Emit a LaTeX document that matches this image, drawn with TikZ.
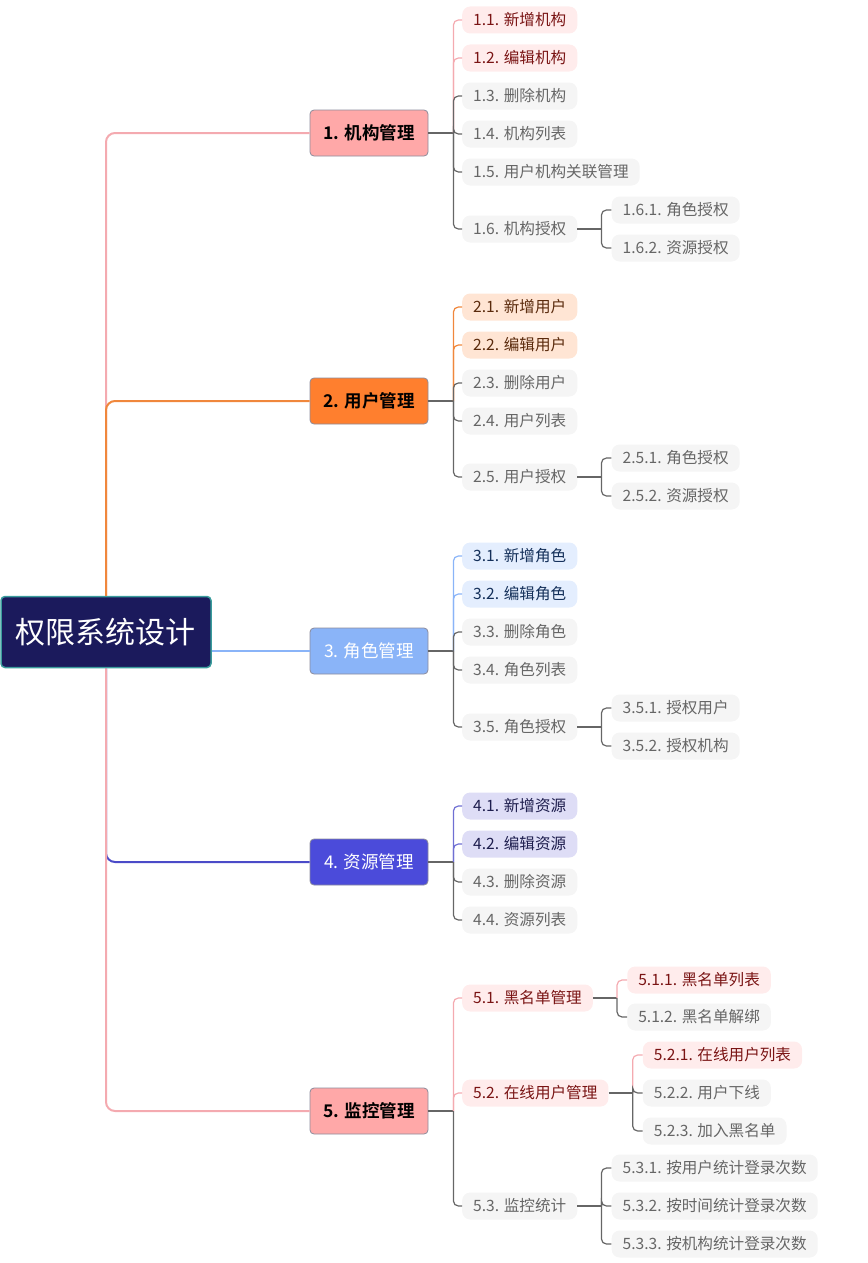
\documentclass[tikz,border=0pt]{standalone}
\usepackage{fontspec}
\newfontfamily\cjk{Noto Sans CJK SC}[BoldFont={Noto Sans CJK SC Bold}]
\usetikzlibrary{positioning}

\definecolor{rootfill}{HTML}{1B1A5C}
\definecolor{rootedge}{HTML}{3A9C9C}
\definecolor{pinkfill}{HTML}{FFA8A8}
\definecolor{pinkline}{HTML}{F4AAB0}
\definecolor{orangefill}{HTML}{FF7F2E}
\definecolor{orangeline}{HTML}{F0873C}
\definecolor{skyfill}{HTML}{8AB4F8}
\definecolor{indigofill}{HTML}{4B4BDA}
\definecolor{indigoline}{HTML}{4B4BC8}
\definecolor{branchedge}{HTML}{8C8C9C}
\definecolor{leafgray}{HTML}{F5F5F5}
\definecolor{leaftext}{HTML}{666666}
\definecolor{gline}{HTML}{666666}
\definecolor{pinkleaf}{HTML}{FFECEC}
\definecolor{pinktext}{HTML}{7A1414}
\definecolor{peachleaf}{HTML}{FFE5D4}
\definecolor{peachtext}{HTML}{5A2A0C}
\definecolor{skyleaf}{HTML}{E4EEFE}
\definecolor{skytext}{HTML}{14305A}
\definecolor{lavleaf}{HTML}{DEDDF6}
\definecolor{lavtext}{HTML}{1E1E4E}

\tikzset{
  rootbox/.style={rounded corners=4pt, fill=rootfill, draw=rootedge, line width=1.5pt,
    minimum width=210pt, minimum height=71pt, text=white, font=\cjk\fontsize{30}{34}\selectfont},
  branch/.style={rounded corners=4pt, draw=branchedge, line width=0.8pt,
    minimum width=118pt, minimum height=46pt, font=\cjk\fontsize{17.5}{20}\selectfont},
  leaf/.style={anchor=west, rounded corners=8pt, fill=leafgray, text=leaftext,
    minimum height=27pt, inner xsep=11pt, inner ysep=0pt, font=\cjk\fontsize{15.6}{18}\selectfont},
  pinkhot/.style={fill=pinkleaf, text=pinktext},
  peachhot/.style={fill=peachleaf, text=peachtext},
  skyhot/.style={fill=skyleaf, text=skytext},
  lavhot/.style={fill=lavleaf, text=lavtext},
  trunk/.style={line width=2pt, rounded corners=9pt},
  conn/.style={draw=gline, line width=1.2pt, rounded corners=5pt},
}

\begin{document}
\begin{tikzpicture}[x=1pt,y=-1pt]
\useasboundingbox (0,0) rectangle (867,1263);

% root and main branches
\node[rootbox] (root) at (106,632) {权限系统设计};
\node[branch, fill=pinkfill] (b1) at (369,133) {\bfseries 1. 机构管理};
\node[branch, fill=orangefill] (b2) at (369,401) {\bfseries 2. 用户管理};
\node[branch, fill=skyfill, text=white] (b3) at (369,651) {3. 角色管理};
\node[branch, fill=indigofill, text=white] (b4) at (369,862) {4. 资源管理};
\node[branch, fill=pinkfill] (b5) at (369,1111) {\bfseries 5. 监控管理};

% 1
\node[leaf, pinkhot] (l11) at (462,20) {1.1. 新增机构};
\node[leaf, pinkhot] (l12) at (462,58) {1.2. 编辑机构};
\node[leaf] (l13) at (462,96) {1.3. 删除机构};
\node[leaf] (l14) at (462,134) {1.4. 机构列表};
\node[leaf] (l15) at (462,172) {1.5. 用户机构关联管理};
\node[leaf] (l16) at (462,229) {1.6. 机构授权};
\node[leaf, right=34pt of l16, yshift=19pt] (l161) {1.6.1. 角色授权};
\node[leaf, right=34pt of l16, yshift=-19pt] (l162) {1.6.2. 资源授权};

% 2
\node[leaf, peachhot] (l21) at (462,307) {2.1. 新增用户};
\node[leaf, peachhot] (l22) at (462,345) {2.2. 编辑用户};
\node[leaf] (l23) at (462,383) {2.3. 删除用户};
\node[leaf] (l24) at (462,421) {2.4. 用户列表};
\node[leaf] (l25) at (462,477) {2.5. 用户授权};
\node[leaf, right=34pt of l25, yshift=19pt] (l251) {2.5.1. 角色授权};
\node[leaf, right=34pt of l25, yshift=-19pt] (l252) {2.5.2. 资源授权};

% 3
\node[leaf, skyhot] (l31) at (462,556) {3.1. 新增角色};
\node[leaf, skyhot] (l32) at (462,594) {3.2. 编辑角色};
\node[leaf] (l33) at (462,632) {3.3. 删除角色};
\node[leaf] (l34) at (462,670) {3.4. 角色列表};
\node[leaf] (l35) at (462,727) {3.5. 角色授权};
\node[leaf, right=34pt of l35, yshift=19pt] (l351) {3.5.1. 授权用户};
\node[leaf, right=34pt of l35, yshift=-19pt] (l352) {3.5.2. 授权机构};

% 4
\node[leaf, lavhot] (l41) at (462,806) {4.1. 新增资源};
\node[leaf, lavhot] (l42) at (462,844) {4.2. 编辑资源};
\node[leaf] (l43) at (462,882) {4.3. 删除资源};
\node[leaf] (l44) at (462,920) {4.4. 资源列表};

% 5
\node[leaf, pinkhot] (l51) at (462,998) {5.1. 黑名单管理};
\node[leaf, pinkhot, right=34pt of l51, yshift=18pt] (l511) {5.1.1. 黑名单列表};
\node[leaf, right=34pt of l51, yshift=-19pt] (l512) {5.1.2. 黑名单解绑};
\node[leaf, pinkhot] (l52) at (462,1093) {5.2. 在线用户管理};
\node[leaf, pinkhot, right=34pt of l52, yshift=38pt] (l521) {5.2.1. 在线用户列表};
\node[leaf, right=34pt of l52] (l522) {5.2.2. 用户下线};
\node[leaf, right=34pt of l52, yshift=-38pt] (l523) {5.2.3. 加入黑名单};
\node[leaf] (l53) at (462,1206) {5.3. 监控统计};
\node[leaf, right=34pt of l53, yshift=38pt] (l531) {5.3.1. 按用户统计登录次数};
\node[leaf, right=34pt of l53] (l532) {5.3.2. 按时间统计登录次数};
\node[leaf, right=34pt of l53, yshift=-38pt] (l533) {5.3.3. 按机构统计登录次数};

% trunk
\draw[trunk, pinkline] (root.north) |- (b1.west);
\draw[trunk, indigoline] (root.south) |- (b4.west);
\draw[trunk, orangeline] (root.north) |- (b2.west);
\draw[trunk, pinkline] (root.south) |- (b5.west);
\draw[trunk, skyfill] (root.east |- b3.west) -- (b3.west);

% stems
\draw[conn] (b1.east) -- ++(25,0) coordinate (j1);
\draw[conn] (b2.east) -- ++(25,0) coordinate (j2);
\draw[conn] (b3.east) -- ++(25,0) coordinate (j3);
\draw[conn] (b4.east) -- ++(25,0) coordinate (j4);
\draw[conn] (b5.east) -- ++(25,0) coordinate (j5);
\draw[conn] (l16.east) -- ++(24,0) coordinate (j16);
\draw[conn] (l25.east) -- ++(24,0) coordinate (j25);
\draw[conn] (l35.east) -- ++(24,0) coordinate (j35);
\draw[conn] (l51.east) -- ++(24,0) coordinate (j51);
\draw[conn] (l52.east) -- ++(24,0) coordinate (j52);
\draw[conn] (l53.east) -- ++(24,0) coordinate (j53);

% coloured links first, grey on top
\foreach \c in {l11,l12} \draw[conn, draw=pinkline] (j1) |- (\c.west);
\foreach \c in {l21,l22} \draw[conn, draw=orangeline] (j2) |- (\c.west);
\foreach \c in {l31,l32} \draw[conn, draw=skyfill] (j3) |- (\c.west);
\foreach \c in {l41,l42} \draw[conn, draw=indigoline!80] (j4) |- (\c.west);
\foreach \c in {l51,l52} \draw[conn, draw=pinkline] (j5) |- (\c.west);
\draw[conn, draw=pinkline] (j51) |- (l511.west);
\draw[conn, draw=pinkline] (j52) |- (l521.west);

\foreach \c in {l13,l14,l15,l16} \draw[conn] (j1) |- (\c.west);
\foreach \c in {l23,l24,l25} \draw[conn] (j2) |- (\c.west);
\foreach \c in {l33,l34,l35} \draw[conn] (j3) |- (\c.west);
\foreach \c in {l43,l44} \draw[conn] (j4) |- (\c.west);
\draw[conn] (j5) |- (l53.west);
\foreach \c in {l161,l162} \draw[conn] (j16) |- (\c.west);
\foreach \c in {l251,l252} \draw[conn] (j25) |- (\c.west);
\foreach \c in {l351,l352} \draw[conn] (j35) |- (\c.west);
\draw[conn] (j51) |- (l512.west);
\foreach \c in {l522,l523} \draw[conn] (j52) |- (\c.west);
\foreach \c in {l531,l532,l533} \draw[conn] (j53) |- (\c.west);
\end{tikzpicture}
\end{document}
